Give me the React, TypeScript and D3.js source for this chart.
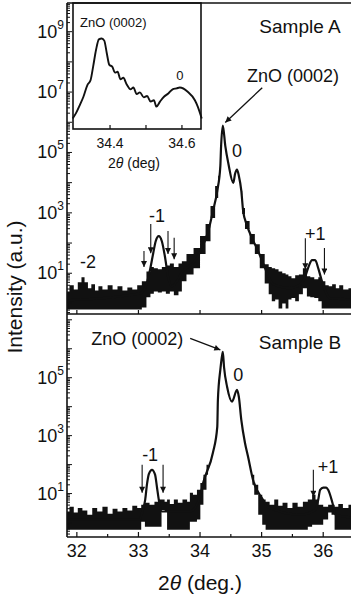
import { useEffect, useRef } from 'react';
import * as d3 from 'd3';

const FONT = 'Liberation Sans, Arial, Helvetica, sans-serif';

// ---------- Sample A (top panel) ----------
// smoothed profile through the satellite and main peaks
const aLineX = [31.84, 33.02, 33.12, 33.19, 33.24, 33.28, 33.33, 33.38, 33.43, 33.48, 33.54, 33.72, 33.95, 34.05, 34.13, 34.21, 34.28, 34.33, 34.34, 34.37, 34.41, 34.46, 34.54, 34.57, 34.6, 34.63, 34.67, 34.7, 34.76, 34.85, 34.93, 35.01, 35.09, 35.19, 35.46, 35.63, 35.71, 35.76, 35.82, 35.87, 35.92, 35.98, 36.11, 36.46];
const aLineY = [1.26, 2.1, 3.7, 13.5, 46, 115, 170, 115, 36, 8, 3.7, 11.5, 32, 85, 234, 1150, 5400, 3.6e4, 1.3e5, 7.8e5, 1.66e5, 4.3e4, 9.8e3, 2.0e4, 2.7e4, 1.7e4, 5400, 1150, 400, 135, 63, 25, 10, 4.3, 3.2, 4.3, 8, 16, 27, 27, 14.5, 5.4, 1.5, 1.35];

// noise band (upper / lower envelope), null where there is no band
const aBandX = [31.84, 31.92, 31.98, 32.05, 32.1, 32.15, 32.21, 32.26, 32.33, 32.37, 32.46, 32.54, 32.62, 32.7, 32.78, 32.86, 32.94, 33.02, 33.09, 33.17, 33.22, 33.28, 33.35, 33.41, 33.48, 33.54, 33.61, 33.69, 33.72, 33.84, 33.95, 34.05, 34.13, 34.21, 34.28, 34.31, 34.5, 34.67, 34.7, 34.76, 34.85, 34.93, 35.01, 35.09, 35.14, 35.19, 35.25, 35.3, 35.37, 35.41, 35.46, 35.51, 35.58, 35.63, 35.71, 35.76, 35.82, 35.89, 35.95, 36.0, 36.07, 36.11, 36.18, 36.23, 36.29, 36.36, 36.46];
const aBandHi = [2.5, 4.0, 2.9, 5.0, 7.3, 5.0, 3.2, 4.3, 2.7, 3.7, 2.9, 4.0, 2.9, 3.7, 2.7, 3.4, 2.9, 4.0, 5.4, 11.5, 16, 14.5, 13.5, 16, 18, 21, 16, 21, 25, 43, 68, 170, 430, 1700, 7800, 1.68e4, null, 5400, 1450, 540, 200, 91, 43, 20, 16, 14.5, 13.5, 11.5, 10, 9.1, 8, 6.8, 8.5, 9.1, 14.5, 8, 7.3, 6.3, 7.3, 5.4, 4.0, 3.7, 4.3, 3.2, 4.0, 2.9, 3.2];
const aBandLo = [0.63, 0.63, 0.63, 0.63, 0.63, 0.63, 0.63, 0.63, 0.63, 0.63, 0.63, 0.63, 0.63, 0.63, 0.63, 0.63, 0.63, 0.63, 0.74, 1.6, 2.1, 2.5, 2.3, 2.5, 2.1, 2.5, 1.85, 2.5, 5.4, 9.1, 14.5, 43, 115, 680, 3100, 1.15e4, null, 3900, 910, 290, 91, 43, 14.5, 4.6, 2.0, 1.17, 1.35, 0.68, 1.0, 0.68, 1.35, 1.5, 1.17, 2.0, 3.2, 1.7, 1.6, 1.5, 1.17, 0.68, 0.68, 0.68, 0.68, 0.68, 0.68, 0.68, 0.68];

// inset: zoom on the (0002) peak of sample A
const insetX = [34.296, 34.305, 34.316, 34.326, 34.337, 34.346, 34.353, 34.361, 34.369, 34.377, 34.384, 34.391, 34.398, 34.406, 34.414, 34.421, 34.429, 34.437, 34.446, 34.457, 34.465, 34.474, 34.483, 34.494, 34.503, 34.513, 34.522, 34.529, 34.539, 34.55, 34.562, 34.574, 34.585, 34.594, 34.616, 34.636, 34.644, 34.655];
const insetY = [1.29e6, 1.9e6, 3.6e6, 6.8e6, 1.66e7, 2.45e7, 6.8e7, 2.45e8, 5.5e8, 5.9e8, 5.0e8, 1.9e8, 7.8e7, 6.8e7, 4.3e7, 4.6e7, 2.6e7, 2.9e7, 1.78e7, 1.2e7, 1.38e7, 8.3e6, 9.5e6, 6.5e6, 7.2e6, 4.7e6, 5.2e6, 3.2e6, 4.7e6, 6.8e6, 8.7e6, 1.2e7, 1.29e7, 1.38e7, 1.0e7, 5.2e6, 3.2e6, 1.29e6];
const insetTicks = [34.4, 34.5, 34.6];
const insetTickLabels = [34.4, 34.6];

// ---------- Sample B (bottom panel) ----------
const bLineX = [31.84, 33.02, 33.07, 33.11, 33.14, 33.17, 33.22, 33.27, 33.3, 33.33, 33.38, 33.84, 34.0, 34.05, 34.21, 34.28, 34.29, 34.33, 34.36, 34.37, 34.39, 34.44, 34.52, 34.6, 34.63, 34.67, 34.73, 34.78, 34.86, 35.02, 35.09, 35.63, 35.87, 35.92, 35.95, 36.0, 36.05, 36.08, 36.15, 36.2, 36.46];
const bLineY = [1.26, 1.26, 2.7, 6.2, 22, 48, 66, 45, 17, 6.2, 2.4, 2.4, 7.8, 23, 260, 2000, 1.7e4, 1.9e5, 6.1e5, 7.8e5, 2.3e5, 4.8e4, 1.5e4, 3.8e4, 2.2e4, 3.5e3, 560, 186, 30, 6.2, 3.5, 1.86, 2.7, 6.2, 13.5, 16, 16, 13.5, 4.8, 1.86, 1.5];

const bBandX = [31.84, 31.92, 31.98, 32.05, 32.13, 32.21, 32.29, 32.37, 32.46, 32.54, 32.62, 32.7, 32.78, 32.86, 32.94, 33.02, 33.07, 33.14, 33.22, 33.3, 33.35, 33.4, 33.45, 33.48, 33.54, 33.61, 33.67, 33.76, 33.82, 33.85, 33.92, 33.98, 34.03, 34.08, 34.13, 34.5, 34.85, 34.91, 34.98, 35.04, 35.09, 35.17, 35.24, 35.3, 35.38, 35.46, 35.54, 35.63, 35.71, 35.79, 35.85, 35.9, 35.95, 36.05, 36.11, 36.16, 36.21, 36.28, 36.36, 36.46];
const bBandHi = [2.4, 3.5, 2.2, 3.2, 2.6, 1.86, 3.2, 2.4, 3.5, 2.0, 3.0, 2.4, 3.2, 2.6, 3.8, 3.2, 4.1, 4.8, 4.1, 5.2, 6.2, 6.2, 5.2, 6.2, 4.4, 6.2, 4.8, 6.2, 5.2, 10.7, 9.1, 13.5, 23, 45, 98, null, 45, 20, 9.1, 6.2, 5.2, 4.1, 6.2, 3.8, 4.8, 3.2, 4.8, 3.5, 5.2, 6.2, 9.1, 6.2, 4.1, 3.5, 4.1, 4.1, 3.5, 4.4, 3.2, 4.1];
const bBandLo = [0.56, 0.56, 0.56, 0.56, 0.56, 0.56, 0.56, 0.56, 0.56, 0.56, 0.56, 0.56, 0.56, 0.56, 0.56, 0.56, 1.07, 0.72, 0.72, 0.72, 0.72, 2.7, 2.4, 0.56, 0.56, 0.56, 0.56, 0.56, 0.56, 1.07, 1.07, 1.26, 4.1, 13.5, 45, null, 20, 9.1, 1.86, 0.84, 0.56, 0.56, 0.56, 0.56, 0.56, 0.56, 0.56, 0.56, 0.56, 0.72, 0.84, 0.84, 0.84, 1.26, 2.2, 1.86, 0.56, 0.56, 0.56, 0.56];

// ---------- axes ----------
const xMajor = [32, 33, 34, 35, 36];
const xMinor = [32.5, 33.5, 34.5, 35.5, 36.5];
const aLabelExps = [1, 3, 5, 7, 9];
const bLabelExps = [1, 3, 5];

// ---------- annotations (data units) ----------
const aMarks = [
  { t: '-2', x: 32.18, y: 25 },
  { t: '-1', x: 33.3, y: 790 },
  { t: '0', x: 34.6, y: 1.15e5 },
  { t: '+1', x: 35.87, y: 200 },
  { t: 'ZnO (0002)', x: 35.51, y: 3.5e7 },
];
const aArrows = [
  { x: 33.09, y1: 54, y2: 16 },
  { x: 33.2, y1: 430, y2: 46 },
  { x: 33.48, y1: 250, y2: 43 },
  { x: 33.58, y1: 150, y2: 29 },
  { x: 35.71, y1: 145, y2: 13.5 },
  { x: 36.02, y1: 68, y2: 9.1 },
];
const aPointer = { x1: 35.01, y1: 1.4e7, x2: 34.41, y2: 9.8e5 };

const bMarks = [
  { t: '-1', x: 33.19, y: 220 },
  { t: '0', x: 34.62, y: 1.26e5 },
  { t: '+1', x: 36.08, y: 84 },
  { t: 'ZnO (0002)', x: 32.98, y: 2.3e6 },
];
const bArrows = [
  { x: 33.06, y1: 98, y2: 10.7 },
  { x: 33.4, y1: 98, y2: 10.7 },
  { x: 35.84, y1: 66, y2: 7.8 },
];
const bPointer = { x1: 33.84, y1: 2.3e6, x2: 34.33, y2: 9.1e5 };

function App() {
  const svgRef = useRef<SVGSVGElement>(null);

  useEffect(() => {
    const svg = d3.select(svgRef.current);
    svg.selectAll('*').remove();

    const left = 67;
    const top = 3;
    const mid = 314;
    const bottom = 537;
    const right = 354;

    const x = d3.scaleLinear().domain([31.84, 36.5]).range([left, right]);
    const yA = d3.scaleLog().domain([Math.pow(10, -0.35), Math.pow(10, 9.95)]).range([mid, top]);
    const yB = d3.scaleLog().domain([Math.pow(10, -0.5), Math.pow(10, 7.2)]).range([bottom, mid]);

    const defs = svg.append('defs');
    defs.append('clipPath').attr('id', 'clipA')
      .append('rect').attr('x', left).attr('y', top).attr('width', right - left).attr('height', mid - top);
    defs.append('clipPath').attr('id', 'clipB')
      .append('rect').attr('x', left).attr('y', mid).attr('width', right - left).attr('height', bottom - mid);
    defs.append('marker')
      .attr('id', 'head')
      .attr('viewBox', '0 0 10 10')
      .attr('refX', 10).attr('refY', 5)
      .attr('markerWidth', 7).attr('markerHeight', 6)
      .attr('markerUnits', 'userSpaceOnUse')
      .attr('orient', 'auto')
      .append('path').attr('d', 'M0,0L10,5L0,10z').attr('fill', '#111');

    // draw one panel: noise band + profile line
    const drawPanel = (clip, y, lx, ly, bx, bhi, blo) => {
      const g = svg.append('g').attr('clip-path', `url(#${clip})`);
      const idx = d3.range(bx.length);
      const band = d3.area()
        .defined((i) => bhi[i] != null)
        .x((i) => x(bx[i]))
        .y0((i) => y(blo[i]))
        .y1((i) => y(bhi[i]))
        .curve(d3.curveStep);
      g.append('path').datum(idx).attr('d', band).attr('fill', '#111');

      const li = d3.range(lx.length);
      const line = d3.line()
        .x((i) => x(lx[i]))
        .y((i) => y(ly[i]))
        .curve(d3.curveMonotoneX);
      g.append('path').datum(li).attr('d', line)
        .attr('fill', 'none').attr('stroke', '#111').attr('stroke-width', 2.2)
        .attr('stroke-linejoin', 'round');
      return g;
    };

    drawPanel('clipA', yA, aLineX, aLineY, aBandX, aBandHi, aBandLo);
    drawPanel('clipB', yB, bLineX, bLineY, bBandX, bBandHi, bBandLo);

    // inset
    const ix = d3.scaleLinear().domain([34.297, 34.653]).range([73, 201]);
    const iy = d3.scaleLog().domain([Math.pow(10, 5.76), Math.pow(10, 9.95)]).range([129, 3]);
    const inset = svg.append('g');
    inset.append('rect').attr('x', 73).attr('y', 3).attr('width', 128).attr('height', 126)
      .attr('fill', '#fff');
    inset.append('path')
      .datum(d3.range(insetX.length))
      .attr('d', d3.line().x((i) => ix(insetX[i])).y((i) => iy(insetY[i])).curve(d3.curveMonotoneX))
      .attr('fill', 'none').attr('stroke', '#111').attr('stroke-width', 1.9);
    inset.selectAll('line.it').data(insetTicks).join('line')
      .attr('x1', (d) => ix(d)).attr('x2', (d) => ix(d))
      .attr('y1', 129).attr('y2', 125)
      .attr('stroke', '#111').attr('stroke-width', 1.2);
    inset.append('rect').attr('x', 73).attr('y', 3).attr('width', 128).attr('height', 126)
      .attr('fill', 'none').attr('stroke', '#111').attr('stroke-width', 1.6);
    inset.selectAll('text.itl').data(insetTickLabels).join('text')
      .attr('x', (d) => ix(d)).attr('y', 148)
      .attr('text-anchor', 'middle')
      .style('font-family', FONT).style('font-size', '14px').attr('fill', '#111')
      .text((d) => d.toFixed(1));
    const it = inset.append('text').attr('x', 134).attr('y', 168).attr('text-anchor', 'middle')
      .style('font-family', FONT).style('font-size', '14px').attr('fill', '#111');
    it.append('tspan').text('2');
    it.append('tspan').style('font-style', 'italic').text('θ');
    it.append('tspan').text(' (deg)');
    inset.append('text').attr('x', 80).attr('y', 27)
      .style('font-family', FONT).style('font-size', '13px').attr('fill', '#111')
      .text('ZnO (0002)');
    inset.append('text').attr('x', ix(34.594)).attr('y', iy(3.5e7)).attr('dy', '0.35em')
      .attr('text-anchor', 'middle')
      .style('font-family', FONT).style('font-size', '13px').attr('fill', '#111')
      .text('0');

    // frame
    const frame = svg.append('g').attr('stroke', '#111').attr('stroke-width', 1.6);
    frame.append('line').attr('x1', left).attr('x2', left).attr('y1', top).attr('y2', bottom);
    frame.append('line').attr('x1', left).attr('x2', 351).attr('y1', top).attr('y2', top);
    frame.append('line').attr('x1', left).attr('x2', 351).attr('y1', mid).attr('y2', mid);
    frame.append('line').attr('x1', left).attr('x2', 351).attr('y1', bottom).attr('y2', bottom);

    // y ticks (log, inward)
    const yTicks = (y, labelExps) => {
      const [lo, hi] = y.domain();
      const g = svg.append('g');
      for (let e = Math.floor(Math.log10(lo)); e <= Math.ceil(Math.log10(hi)); e++) {
        for (let k = 1; k < 10; k++) {
          const v = k * Math.pow(10, e);
          if (v < lo || v > hi) continue;
          g.append('line')
            .attr('x1', left).attr('x2', left + (k === 1 ? 5 : 3))
            .attr('y1', y(v)).attr('y2', y(v))
            .attr('stroke', '#111').attr('stroke-width', 1);
        }
      }
      labelExps.forEach((e) => {
        const t = g.append('text')
          .attr('x', 64).attr('y', y(Math.pow(10, e)) + 6)
          .attr('text-anchor', 'end')
          .style('font-family', FONT).attr('fill', '#111');
        t.append('tspan').style('font-size', '18px').text('10');
        t.append('tspan').attr('dy', -9).style('font-size', '12px').text(String(e));
      });
    };
    yTicks(yA, aLabelExps);
    yTicks(yB, bLabelExps);

    // x ticks
    const xt = svg.append('g').attr('stroke', '#111').attr('stroke-width', 1.2);
    xMajor.forEach((v) => {
      xt.append('line').attr('x1', x(v)).attr('x2', x(v)).attr('y1', mid).attr('y2', mid - 4);
      xt.append('line').attr('x1', x(v)).attr('x2', x(v)).attr('y1', bottom).attr('y2', bottom - 5);
    });
    xMinor.forEach((v) => {
      xt.append('line').attr('x1', x(v)).attr('x2', x(v)).attr('y1', bottom).attr('y2', bottom - 3);
    });
    svg.append('g').selectAll('text').data(xMajor).join('text')
      .attr('x', (d) => x(d)).attr('y', 557)
      .attr('text-anchor', 'middle')
      .style('font-family', FONT).style('font-size', '18px').attr('fill', '#111')
      .text((d) => d);

    // axis titles
    const xl = svg.append('text').attr('x', 200).attr('y', 590).attr('text-anchor', 'middle')
      .style('font-family', FONT).style('font-size', '21px').attr('fill', '#111');
    xl.append('tspan').text('2');
    xl.append('tspan').style('font-style', 'italic').text('θ');
    xl.append('tspan').text(' (deg.)');
    svg.append('text')
      .attr('transform', 'translate(22,287) rotate(-90)')
      .attr('text-anchor', 'middle')
      .style('font-family', FONT).style('font-size', '21px').attr('fill', '#111')
      .text('Intensity (a.u.)');

    // annotations
    const annotate = (y, marks, arrows, ptr) => {
      const g = svg.append('g');
      marks.forEach((m) => {
        g.append('text').attr('x', x(m.x)).attr('y', y(m.y)).attr('dy', '0.35em')
          .attr('text-anchor', 'middle')
          .style('font-family', FONT).style('font-size', '18px').attr('fill', '#111')
          .text(m.t);
      });
      arrows.forEach((a) => {
        g.append('line').attr('x1', x(a.x)).attr('x2', x(a.x))
          .attr('y1', y(a.y1)).attr('y2', y(a.y2))
          .attr('stroke', '#111').attr('stroke-width', 1.1)
          .attr('marker-end', 'url(#head)');
      });
      g.append('line').attr('x1', x(ptr.x1)).attr('y1', y(ptr.y1))
        .attr('x2', x(ptr.x2)).attr('y2', y(ptr.y2))
        .attr('stroke', '#111').attr('stroke-width', 1.3)
        .attr('marker-end', 'url(#head)');
    };
    annotate(yA, aMarks, aArrows, aPointer);
    annotate(yB, bMarks, bArrows, bPointer);

    svg.append('text').attr('x', 300).attr('y', 33).attr('text-anchor', 'middle')
      .style('font-family', FONT).style('font-size', '19px').attr('fill', '#111')
      .text('Sample A');
    svg.append('text').attr('x', 300).attr('y', 349).attr('text-anchor', 'middle')
      .style('font-family', FONT).style('font-size', '19px').attr('fill', '#111')
      .text('Sample B');
  }, []);

  return (
    <svg
      ref={svgRef}
      width={351}
      height={594}
      style={{ position: 'absolute', left: 0, top: 0, background: '#fff' }}
    ></svg>
  );
}

export default App;
